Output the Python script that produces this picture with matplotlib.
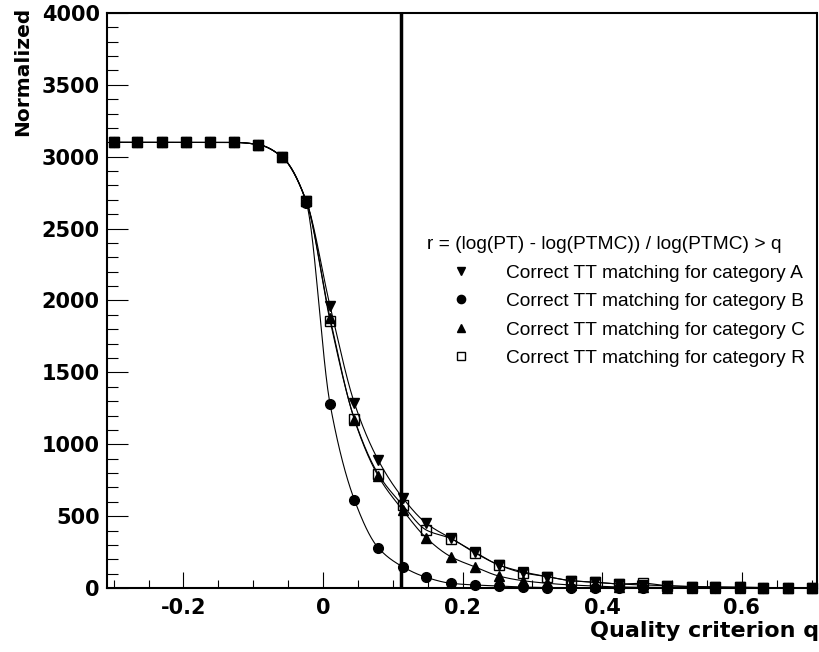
import numpy as np
import matplotlib.pyplot as plt

# quality criterion values (x) and the four matching categories
q = [-0.300, -0.266, -0.231, -0.197, -0.162, -0.128, -0.093, -0.059, -0.024, 0.010,
     0.045, 0.079, 0.114, 0.148, 0.183, 0.217, 0.252, 0.286, 0.321, 0.355,
     0.390, 0.424, 0.459, 0.493, 0.528, 0.562, 0.597, 0.631, 0.666, 0.700]
cat_a = [3100, 3100, 3100, 3100, 3100, 3100, 3085, 3000, 2692, 1962,
         1285, 890, 628, 450, 346, 252, 160, 113, 79, 51,
         40, 28, 21, 16, 10, 7, 5, 3, 2, 1]
cat_b = [3100, 3100, 3100, 3100, 3100, 3100, 3085, 3000, 2680, 1280,
         612, 280, 148, 74, 33, 21, 14, 7, 3, 1,
         1, 0, 0, 0, 0, 0, 0, 0, 0, 0]
cat_c = [3100, 3100, 3100, 3100, 3100, 3100, 3085, 3000, 2692, 1878,
         1170, 779, 543, 348, 218, 148, 83, 51, 33, 21,
         14, 7, 5, 3, 2, 1, 1, 0, 0, 0]
cat_r = [3100, 3100, 3100, 3100, 3100, 3100, 3085, 3000, 2692, 1860,
         1174, 793, 577, 403, 344, 246, 160, 106, 79, 51,
         40, 28, 33, 16, 10, 7, 5, 3, 2, 1]
labels = ['Correct TT matching for category A', 'Correct TT matching for category B',
          'Correct TT matching for category C', 'Correct TT matching for category R']
markers = ['v', 'o', '^', 's']
q_cut = 0.112
legend_title = 'r = (log(PT) - log(PTMC)) / log(PTMC) > q'


def smooth(x, y, xs):
    # monotone cubic (pchip) so the curve passes through every point
    x = np.asarray(x, float)
    y = np.asarray(y, float)
    h = np.diff(x)
    d = np.diff(y) / h
    m = np.zeros_like(y)
    for k in range(1, len(x) - 1):
        if d[k - 1] * d[k] > 0:
            w1 = 2 * h[k] + h[k - 1]
            w2 = h[k] + 2 * h[k - 1]
            m[k] = (w1 + w2) / (w1 / d[k - 1] + w2 / d[k])
    m[0], m[-1] = d[0], d[-1]
    idx = np.clip(np.searchsorted(x, xs) - 1, 0, len(x) - 2)
    t = (xs - x[idx]) / h[idx]
    h00 = 2 * t**3 - 3 * t**2 + 1
    h10 = t**3 - 2 * t**2 + t
    h01 = -2 * t**3 + 3 * t**2
    h11 = t**3 - t**2
    return h00 * y[idx] + h10 * h[idx] * m[idx] + h01 * y[idx + 1] + h11 * h[idx] * m[idx + 1]


fig = plt.figure(figsize=(8.2, 6.52), dpi=100)
ax = fig.add_axes([106.7 / 820, 1 - 588 / 652, 709.8 / 820, 575 / 652])

xs = np.linspace(q[0], q[-1], 800)
for vals, mk, lab in zip([cat_a, cat_b, cat_c, cat_r], markers, labels):
    ax.plot(xs, smooth(q, vals, xs), color='black', lw=0.8)
    face = 'none' if mk == 's' else 'black'
    ax.plot(q, vals, linestyle='none', marker=mk, ms=6.5 if mk == 's' else 7,
            mfc=face, mec='black', mew=1.0, label=lab, clip_on=False, zorder=3)

ax.axvline(q_cut, color='black', lw=2.5)

ax.set_xlim(-0.31, 0.707)
ax.set_ylim(0, 4000)
ax.set_xticks([-0.2, 0, 0.2, 0.4, 0.6])
ax.set_xticklabels(['-0.2', '0', '0.2', '0.4', '0.6'])
ax.set_xticks(np.arange(-0.3, 0.71, 0.05), minor=True)
ax.set_yticks(np.arange(0, 4001, 500))
ax.set_yticks(np.arange(0, 4001, 100), minor=True)

ax.tick_params(axis='both', which='both', direction='in', top=False, right=False, width=0.8)
ax.tick_params(axis='y', which='major', length=15, pad=5)
ax.tick_params(axis='y', which='minor', length=8)
ax.tick_params(axis='x', which='major', length=11.5, pad=7)
ax.tick_params(axis='x', which='minor', length=5.8)
for lbl in ax.get_xticklabels() + ax.get_yticklabels():
    lbl.set_fontfamily('DejaVu Sans')
    lbl.set_fontweight('bold')
    lbl.set_fontsize(15)
for sp in ax.spines.values():
    sp.set_linewidth(1.5)

ax.set_xlabel('Quality criterion q', fontsize=16, fontweight='bold', ha='right', va='top')
ax.xaxis.set_label_coords(1.003, -0.057)
ax.set_ylabel('Normalized', fontsize=14.5, fontweight='bold', ha='right', va='bottom')
ax.yaxis.set_label_coords(-0.105, 1.01)

font = {'family': 'Liberation Sans', 'size': 13.8}
leg = ax.legend(loc='upper left', bbox_to_anchor=(427 / 820, 1 - 236 / 652),
                bbox_transform=fig.transFigure, frameon=False, title=legend_title,
                prop=font, title_fontproperties=font, alignment='left',
                borderpad=0, borderaxespad=0, handlelength=3.6, handletextpad=0.5,
                labelspacing=0.58, markerscale=0.85)

fig.savefig('out.png', dpi=100, facecolor='white')
